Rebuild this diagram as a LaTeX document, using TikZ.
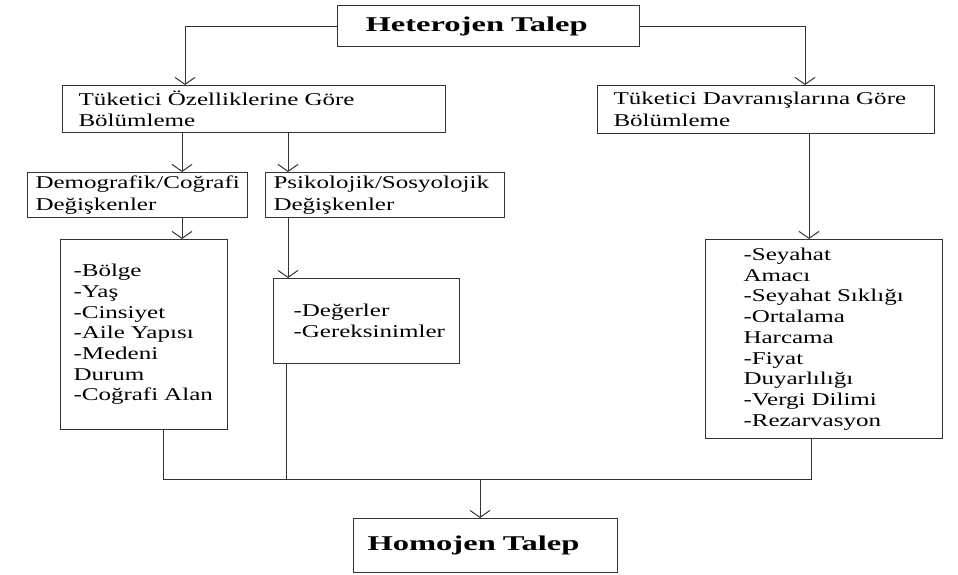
\documentclass[tikz,border=0pt]{standalone}
\usepackage{fontspec}
\setmainfont{Liberation Serif}[FakeStretch=1.39]
\newfontfamily\talepfont{Liberation Serif}[FakeStretch=1.55]
\usetikzlibrary{arrows.meta}
\tikzstyle{talep} = [rectangle, draw=black!80, line width=1pt, anchor=north west, align=left, inner ysep=0pt, font=\talepfont\fontsize{21}{24}\selectfont\bfseries]
\tikzstyle{group} = [rectangle, draw=black!80, line width=1pt, anchor=north west, align=left, inner ysep=0pt, font=\fontsize{18}{21.5}\selectfont]
\tikzstyle{items} = [group, font=\fontsize{18}{20.7}\selectfont]

\begin{document}
\begin{tikzpicture}[x=1pt, y=-1pt, line width=1pt, draw=black!80, >={Straight Barb[length=7pt,width=20pt]}]
            \useasboundingbox (0,0) rectangle (958,574);

            \node[talep] (het)  at (337,5)   [inner xsep=28pt, text width=246pt, minimum height=41pt] {Heterojen Talep};
            \node[group] (tuo)  at (62,85)   [inner xsep=16pt, text width=351pt, minimum height=47pt] {Tüketici Özelliklerine Göre\\Bölümleme};
            \node[group] (tud)  at (597,85)  [inner xsep=16pt, text width=305pt, minimum height=48pt] {Tüketici~Davranışlarına~Göre\\Bölümleme};
            \node[group] (dem)  at (27,172)  [inner xsep=8pt,  text width=204pt, minimum height=45pt] {Demografik/Coğrafi\\Değişkenler};
            \node[group] (psi)  at (265,172) [inner xsep=8pt,  text width=223pt, minimum height=45pt] {Psikolojik/Sosyolojik\\Değişkenler};
            \node[items] (lst1) at (60,239)  [inner xsep=13pt, text width=141pt, minimum height=190pt] {-Bölge\\-Yaş\\-Cinsiyet\\-Aile~Yapısı\\-Medeni\\Durum\\\mbox{-Coğrafi Alan}};
            \node[items] (lst2) at (273,278) [inner xsep=20pt, text width=146pt, minimum height=85pt] {\mbox{-Değerler}\\\mbox{-Gereksinimler}\\[8pt]};
            \node[items] (lst3) at (705,239) [inner xsep=38pt, text width=161pt, minimum height=199pt] {-Seyahat\\Amacı\\\mbox{-Seyahat Sıklığı}\\-Ortalama\\Harcama\\-Fiyat\\Duyarlılığı\\\mbox{-Vergi Dilimi}\\-Rezarvasyon};
            \node[talep] (hom)  at (353,518) [inner xsep=14pt, text width=236pt, minimum height=54pt] {Homojen Talep};
            \coordinate (join) at (480,479);

            \draw[->] (het.west) -| ([xshift=123pt]tuo.north west);
            \draw[->] (het.east) -| ([xshift=208pt]tud.north west);
            \draw[->] ([xshift=120pt]tuo.south west) -- ([xshift=155pt]dem.north west);
            \draw[->] ([xshift=226pt]tuo.south west) -- ([xshift=23pt]psi.north west);
            \draw[->] ([xshift=155pt]dem.south west) -- ([xshift=122pt]lst1.north west);
            \draw[->] ([xshift=23pt]psi.south west) -- ([xshift=15pt]lst2.north west);
            \draw[->] ([xshift=212pt]tud.south west) -- ([xshift=104pt]lst3.north west);
            \draw ([xshift=103pt]lst1.south west) |- (join);
            \draw ([xshift=13pt]lst2.south west) |- (join);
            \draw ([xshift=106pt]lst3.south west) |- (join);
            \draw[->] (join) -- (join |- hom.north);
        \end{tikzpicture}
\end{document}
